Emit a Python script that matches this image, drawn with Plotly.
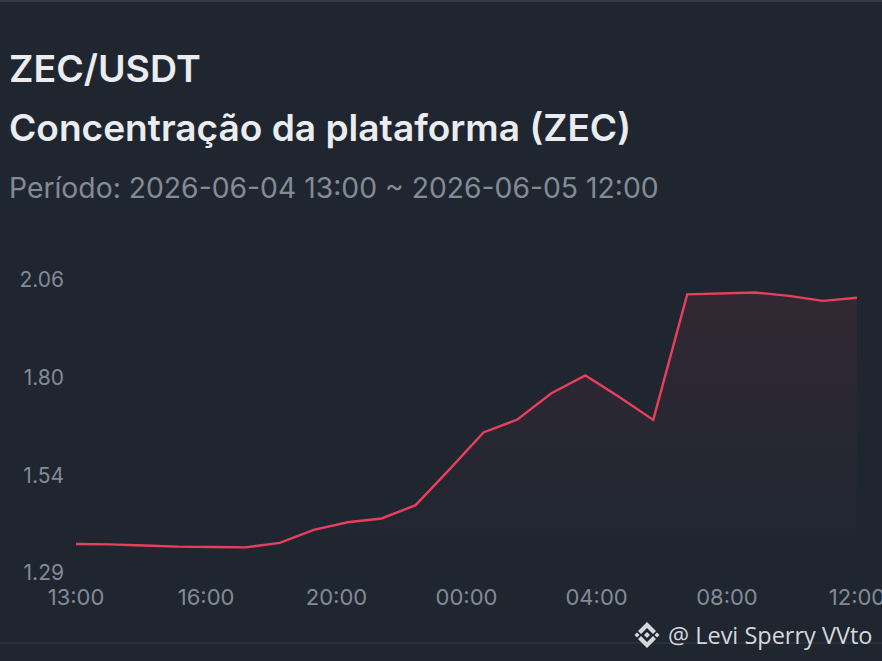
import plotly.graph_objects as go

W, H = 882, 661
BG = "#1f2630"

hours = list(range(24))
concentration = [1.361, 1.360, 1.357, 1.354, 1.353, 1.352, 1.364, 1.398, 1.418, 1.428,
                 1.463, 1.557, 1.654, 1.688, 1.757, 1.804, 1.747, 1.687, 2.017, 2.019,
                 2.022, 2.013, 2.000, 2.008]
x_tick_positions = [0, 3.83, 7.67, 11.5, 15.33, 19.17, 23]
x_tick_labels = ["13:00", "16:00", "20:00", "00:00", "04:00", "08:00", "12:00"]
y_tick_positions = [1.29, 1.5467, 1.8033, 2.06]
y_tick_labels = ["1.29", "1.54", "1.80", "2.06"]
title_lines = ["ZEC/USDT", "Concentração da plataforma (ZEC)"]
subtitle = "Período: 2026-06-04 13:00 ~ 2026-06-05 12:00"
watermark = "@ Levi Sperry VVto"


def px(x):
    return x / W


def py(y):
    return 1 - y / H


def diamond(cx, cy, r):
    return dict(type="path", xref="paper", yref="paper", line_width=0, fillcolor="#d5d8dd",
                path=f"M {px(cx - r)} {py(cy)} L {px(cx)} {py(cy - r)} L {px(cx + r)} {py(cy)} L {px(cx)} {py(cy + r)} Z")


def chevron(cx, cy, r, t, up):
    s = -1 if up else 1
    return dict(type="path", xref="paper", yref="paper", line_width=0, fillcolor="#d5d8dd",
                path=(f"M {px(cx - r)} {py(cy)} L {px(cx)} {py(cy + s * r)} L {px(cx + r)} {py(cy)} "
                      f"L {px(cx + r - t)} {py(cy - s * t)} L {px(cx)} {py(cy + s * (r - 2 * t))} "
                      f"L {px(cx - r + t)} {py(cy - s * t)} Z"))


fig = go.Figure(go.Scatter(
    x=hours, y=concentration, mode="lines",
    line=dict(color="#e8405c", width=2.4),
    fill="tozeroy",
    fillcolor="rgba(224,64,94,0.04)",
    fillgradient=dict(type="vertical", start=2.06, stop=1.29,
                      colorscale=[[0, "rgba(224,64,94,0.10)"], [0.96, "rgba(224,64,94,0)"], [1, "rgba(224,64,94,0)"]]),
    hoverinfo="skip",
))

FONT = "Inter"
annotations = [
    dict(text=title_lines[0], x=px(7), y=py(68), font=dict(size=37.5, color="#eaecef", family=FONT, weight=600)),
    dict(text=title_lines[1], x=px(7), y=py(127.5), font=dict(size=37.1, color="#eaecef", family=FONT, weight=600)),
    dict(text=subtitle, x=px(7), y=py(188), font=dict(size=28.3, color="#848a96", family=FONT)),
    dict(text=watermark, x=px(666), y=py(635), font=dict(size=23.5, color="#d5d8dd", family="Open Sans")),
]
for a in annotations:
    a.update(xref="paper", yref="paper", xanchor="left", yanchor="middle", showarrow=False)

shapes = [
    dict(type="rect", xref="paper", yref="paper", x0=0, x1=1, y0=py(2), y1=1, line_width=0, fillcolor="#343b48"),
    dict(type="line", xref="paper", yref="paper", x0=0, x1=1, y0=py(643), y1=py(643), line=dict(color="#343b48", width=1)),
    chevron(647, 631, 9, 3, True),
    chevron(647, 639, 9, 3, False),
    diamond(647, 635, 3),
    diamond(637, 635, 2.5),
    diamond(657, 635, 2.5),
]

fig.update_layout(
    width=W, height=H,
    margin=dict(l=0, r=0, t=0, b=0, autoexpand=False),
    paper_bgcolor=BG, plot_bgcolor=BG,
    showlegend=False,
    annotations=annotations,
    shapes=shapes,
    font=dict(family=FONT),
    xaxis=dict(domain=[px(76), px(857)], range=[0, 23], tickmode="array",
               tickvals=x_tick_positions, ticktext=x_tick_labels,
               showgrid=False, zeroline=False, showline=False, ticks="", ticklabelstandoff=11,
               tickfont=dict(size=22, color="#848a96"), ticklabeloverflow="allow"),
    yaxis=dict(domain=[py(571), py(278)], range=[1.29, 2.06], tickmode="array",
               tickvals=y_tick_positions, ticktext=y_tick_labels,
               showgrid=False, zeroline=False, showline=False, ticks="", ticklabelstandoff=11,
               ticklabelshift=2,
               tickfont=dict(size=21, color="#848a96"), ticklabeloverflow="allow"),
)

fig.write_html("out.html", config=dict(displayModeBar=False),
               post_script="document.body.style.margin='0';document.body.style.background='#1f2630';")
